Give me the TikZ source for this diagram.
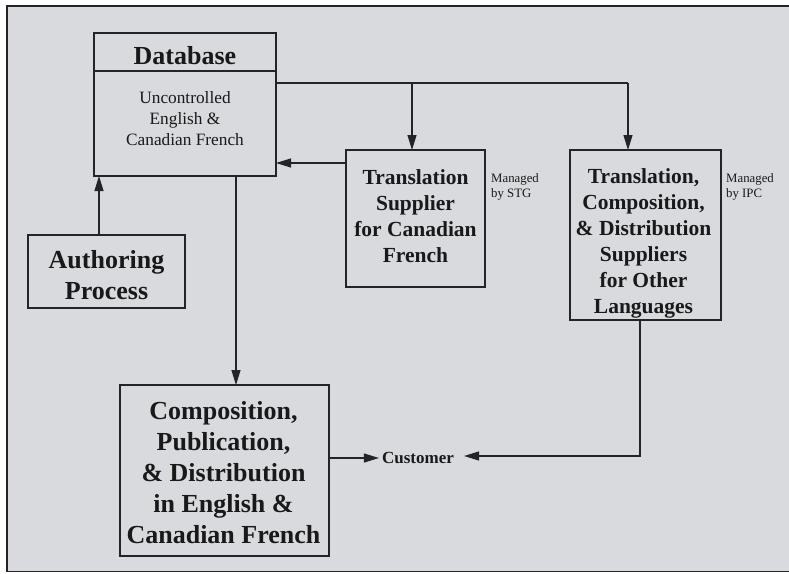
\documentclass[tikz,border=0pt]{standalone}
\usepackage{fontspec}
\setmainfont{Liberation Serif}
\usetikzlibrary{arrows.meta,positioning,calc}
\definecolor{paper}{RGB}{217,218,221}
\definecolor{ink}{RGB}{35,35,40}
\tikzset{
box/.style={draw=ink, line width=1.2pt, inner sep=0pt, outer sep=0pt},
bigtext/.style={font=\fontsize{26}{31}\selectfont\bfseries, align=center},
midtext/.style={font=\fontsize{21.5}{26}\selectfont\bfseries, align=center},
bodytext/.style={font=\fontsize{17.3}{21}\selectfont, align=center},
note/.style={font=\fontsize{12.8}{15}\selectfont, align=left, inner sep=0pt},
line/.style={draw=ink, line width=1.2pt},
arr/.style={line, -{Triangle[length=15pt,width=9pt]}},
}
\tikzstyle{every node}=[text=black!90]

\begin{document}
\begin{tikzpicture}[x=1pt,y=-1pt]
    \useasboundingbox (0,0) rectangle (789,573);
    \fill[paper] (7,6) rectangle (789,572);
    \draw[line width=1.5pt, ink] (789,6) -- (7,6) -- (7,571.5) -- (789,571.5);

    % boxes
    \node[box, minimum width=182pt, minimum height=38pt] (dbhead) at (185,52) {};
    \node[box, minimum width=182pt, minimum height=105pt, below=0pt of dbhead] (db) {};
    \node[box, minimum width=157pt, minimum height=73pt] (author) at (106.5,271.5) {};
    \node[box, minimum width=209pt, minimum height=171pt] (comp) at (224.5,470.5) {};
    \node[box, minimum width=139pt, minimum height=137pt] (trans) at (415.5,218.5) {};
    \node[box, minimum width=151pt, minimum height=170pt] (other) at (645.5,235) {};

    % texts
    \node[bigtext] (dbtitle) at ($(dbhead)+(0,4)$) {Database};
    \node[bodytext] (dbtext) at (185,119) {Uncontrolled\\English \&\\Canadian French};
    \node[bigtext] (authortext) at ($(author)+(0,4)$) {Authoring\\Process};
    \node[bigtext] (comptext) at ($(comp)+(-1,2)$)
        {Composition,\\Publication,\\\& Distribution\\in English \&\\Canadian French};
    \node[midtext] (transtext) at ($(trans)+(0,-2.5)$)
        {Translation\\Supplier\\for Canadian\\French};
    \node[midtext] (othertext) at ($(other)+(-2,8)$)
        {Translation,\\Composition,\\\& Distribution\\Suppliers\\for Other\\Languages};
    \node[font=\fontsize{17}{20}\selectfont\bfseries, inner xsep=3pt] (cust) at (418,458) {Customer};

    \node[note, anchor=north west] (stg) at ($(trans.north east)+(6,23)$) {Managed\\by STG};
    \node[note, anchor=north west] (ipc) at ($(other.north east)+(5,23)$) {Managed\\by IPC};

    % connectors
    \coordinate (split1) at (412,83);
    \coordinate (split2) at (628,83);
    \coordinate (back) at (300,163);
    \coordinate (up) at (99,200);
    \coordinate (down) at (236,300);
    \coordinate (turn) at (640,456);

    \draw[line] (db.east |- split1) -- (split2);
    \draw[arr] (split1) -- (trans.north -| split1);
    \draw[arr] (split2) -- (other.north -| split2);
    \draw[arr] (trans.west |- back) -- (db.east |- back);
    \draw[arr] (author.north -| up) -- (db.south -| up);
    \draw[arr] (db.south -| down) -- (comp.north -| down);
    \draw[arr] (comp.east |- cust.west) -- (cust.west);
    \draw[arr, shorten >=7pt] (other.south -| turn) -- (turn) -- (cust.east |- turn);
\end{tikzpicture}
\end{document}
